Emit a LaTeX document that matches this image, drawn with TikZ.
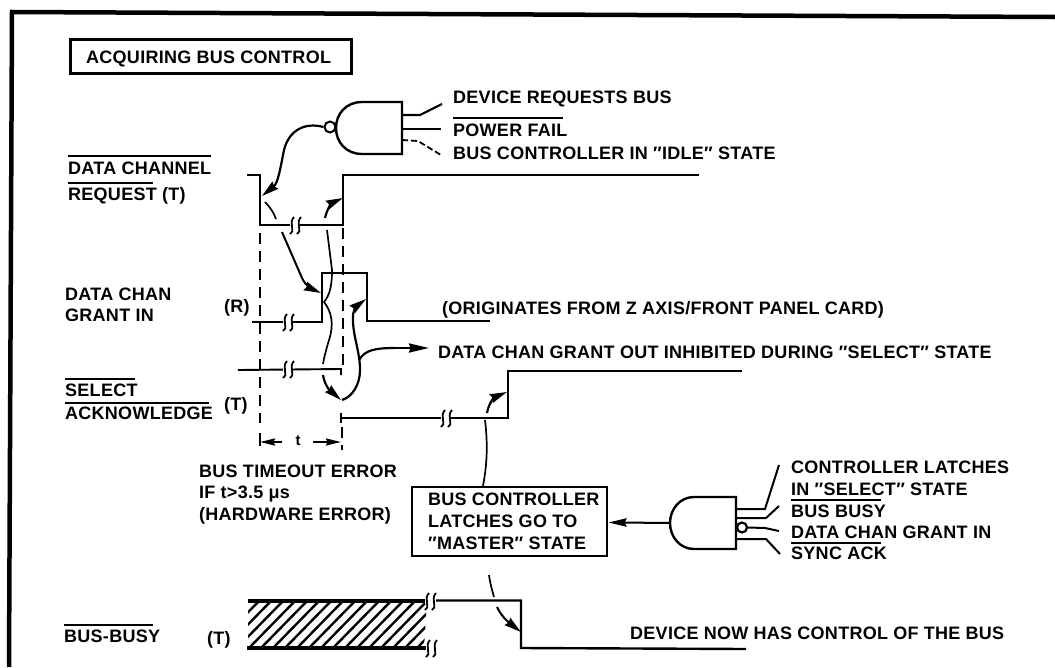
\documentclass[tikz,border=0pt]{standalone}
\usepackage{fontspec}
\setmainfont{Liberation Sans}[LetterSpace=1.5]
\usetikzlibrary{arrows.meta}
\tikzset{
  x=1pt,y=-1pt,
  lbl/.style={anchor=base west,yshift=-6.3pt,inner sep=0pt,font=\bfseries\fontsize{18}{18}\selectfont},
  sig/.style={line width=2.4pt,line join=miter},
  over/.style={line width=1.6pt},
  dashline/.style={line width=2pt,dash pattern=on 11pt off 7pt},
  tiph/.style={-{Stealth[length=17pt,width=9pt,inset=1.5pt]}},
  gate/.style={line width=2.4pt,fill=white},
  framebox/.style={draw,inner sep=0pt}
}
\newcommand{\brk}[2]{%
  \fill[white] (#1-5,#2-3) rectangle (#1+5,#2+3);
  \draw[line width=1.8pt] (#1-5,#2+9) .. controls (#1+1,#2+7) and (#1-7,#2-2) .. (#1-1,#2-8);
  \draw[line width=1.8pt] (#1+2,#2+9) .. controls (#1+8,#2+7) and (#1+0,#2-2) .. (#1+6,#2-8);
}
\begin{document}
\begin{tikzpicture}
\useasboundingbox (0,0) rectangle (1055,667);
% frame
\draw[line width=4.5pt] (9,667) -- (12,12) -- (1055,17);
% title
\node[framebox,line width=3pt,minimum width=281pt,minimum height=34pt] (title) at (210.5,56) {};
\node[lbl] (titlet) at (86,57) {ACQUIRING BUS CONTROL};
% coordinates
\coordinate (g1a) at (402,115); \coordinate (g1b) at (402,129); \coordinate (g1c) at (402,140);
\coordinate (i1a) at (442,104); \coordinate (i1b) at (441,129); \coordinate (i1c) at (441,155);
\coordinate (edge1) at (262,196); \coordinate (edge2) at (343,198);
\coordinate (rise) at (321,293); \coordinate (fall) at (366,299);
\coordinate (sel) at (341,400); \coordinate (selr) at (507,392);
\coordinate (outarrow) at (429,348); \coordinate (busedge) at (521,632);
% gate 1
\draw[line width=2.2pt] (g1a) -- (420,115) -- (i1a);
\draw[line width=2.6pt] (g1b) -- (i1b);
\draw[line width=1.8pt,dash pattern=on 6pt off 3pt] (g1c) -- (418,141) -- (i1c);
\draw[gate] (402,102) -- (362,102) .. controls (346,102) and (336,114) .. (336,128)
  .. controls (336,142) and (346,154) .. (362,154) -- (402,154) -- cycle;
\node[circle,draw,line width=2pt,fill=white,minimum size=11pt,inner sep=0pt] (bub1) at (330,127) {};
\draw[line width=2.2pt,tiph] (bub1.west) .. controls (305,122) and (289,130) .. (284,150)
  .. controls (280,170) and (278,183) .. (edge1);
% DATA CHANNEL REQUEST
\draw[sig] (247,175) -- (260,175) -- (260,225) -- (343,225) -- (343,175) -- (699,175);
\brk{295}{225}
% GRANT IN
\draw[sig] (252,322) -- (322,322) -- (322,273) -- (367,273) -- (367,321) -- (490,321);
\brk{288}{322}
% SELECT ACK
\draw[line width=1.9pt] (238,370) -- (341,369) -- (341,375);
\brk{288}{369}
\draw[line width=2pt] (341,413) -- (341,418) -- (341,423);
\draw[sig] (341,418) -- (508,418) -- (508,371) -- (742,371);
\brk{446}{418}
% dashed
\draw[dashline] (260,233) -- (260,423);
\draw[dashline] (342.5,228) -- (342.5,368);
\draw[dashline] (342,427) -- (342,450);
% t dimension
\draw[line width=2pt] (259.5,433) -- (259.5,446);
\node[inner sep=0pt,font=\bfseries\fontsize{15}{15}\selectfont] (tlabel) at (298,441) {t};
\coordinate (tl) at (260,442); \coordinate (tr) at (341,442);
\draw[line width=2pt,-{Stealth[length=15pt,width=7pt,inset=1.5pt]}] (282,442) -- (tl);
\draw[line width=2pt,-{Stealth[length=15pt,width=7pt,inset=1.5pt]}] (313,442) -- (tr);
% curves
\draw[line width=1.7pt] (265,202) .. controls (270,207) and (274,213) .. (276,219);
\draw[line width=2pt,tiph] (282,232) -- (302,278) .. controls (305,285) and (312,289) .. (rise);
\draw[line width=2.2pt,tiph] (325,218) .. controls (328,205) and (334,202) .. (edge2);
\draw[line width=1.7pt] (327,230) -- (332,270) .. controls (332,285) and (330,295) .. (324,302)
  .. controls (332,312) and (334,325) .. (329,340) .. controls (326,350) and (324,358) .. (323,364);
\draw[line width=2.2pt,tiph] (323,375) .. controls (325,388) and (333,393) .. (sel);
\draw[line width=2.2pt,tiph] (342,400) .. controls (352,397) and (360,385) .. (360,370)
  .. controls (360,350) and (352,335) .. (353,315) .. controls (354,308) and (358,305) .. (fall);
\draw[line width=2.2pt] (359,360) .. controls (365,350) and (375,348) .. (395,348);
\draw[line width=2.4pt,-{Stealth[length=20pt,width=9pt,inset=1.5pt]}] (395,348) -- (outarrow);
\draw[line width=2.2pt,tiph] (487,413) .. controls (489,402) and (495,397) .. (selr);
% master box
\node[framebox,line width=2.4pt,minimum width=195pt,minimum height=69pt] (master) at (509.5,521.5) {};
\draw[line width=1.7pt] (485,420) .. controls (488,445) and (487,465) .. (master.north -| 483,0);
\node[lbl] (m1) at (428,499) {BUS CONTROLLER};
\node[lbl] (m2) at (428,521) {LATCHES GO TO};
\node[lbl] (m3) at (428,543) {″MASTER″ STATE};
% gate 2
\coordinate (i2a) at (779,465); \coordinate (i2b) at (779,506); \coordinate (i2c) at (779,531); \coordinate (i2d) at (780,554);
\draw[line width=2pt] (736,509) -- (765,509) -- (i2a);
\draw[line width=2pt] (736,518) -- (766,518) -- (i2b);
\draw[line width=2pt] (736,539) -- (766,539) -- (i2d);
\draw[gate] (736,497) -- (694,497) .. controls (680,497) and (670,509) .. (670,523)
  .. controls (670,537) and (680,549) .. (694,549) -- (736,549) -- cycle;
\node[circle,draw,line width=2.2pt,fill=white,minimum size=10pt,inner sep=0pt] (bub2) at (742,527.5) {};
\draw[line width=2pt] (bub2.east) -- (765,528) -- (i2c);
\coordinate (g2o) at (670,523);
\draw[line width=2pt] (g2o) -- (620,522.5);
\draw[line width=3pt,-{Stealth[length=18pt,width=8pt,inset=1.5pt]}] (624,522.5) -- (master.east |- 0,522.5);
% BUS-BUSY
\begin{scope}
\clip (248,601) -- (427,601) -- (424,648) -- (248,648) -- cycle;
\foreach \k in {0,...,20} {\draw[line width=2.4pt] (248+\k*12-47,648) -- (248+\k*12,600);}
\end{scope}
\draw[line width=3.4pt] (248,601) -- (427,601);
\draw[line width=3.4pt] (247,648) -- (427,648);
\draw[sig] (436,600.5) -- (521,600.5) -- (521,648) -- (746,649);
\brk{430}{601}
\brk{431}{648}
\draw[line width=1.7pt] (489,575) .. controls (490,583) and (492,590) .. (494,597);
\draw[line width=2pt,tiph] (497,607) .. controls (502,618) and (512,625) .. (busedge);
% left labels
\node[lbl] (dc) at (68,168) {DATA CHANNEL};
\node[lbl] (rq) at (68,194) {REQUEST (T)};
\draw[over] (68,156) -- (211,156);
\draw[over] (68,183) -- (153,183);
\node[lbl] (dg1) at (65,294) {DATA CHAN};
\node[lbl] (dg2) at (65,315) {GRANT IN};
\node[lbl] (r) at (224,306) {(R)};
\node[lbl] (sl) at (65,390) {SELECT};
\node[lbl] (ak) at (65,413) {ACKNOWLEDGE};
\draw[over] (65,379) -- (135,379);
\draw[over] (65,403) -- (209,403);
\node[lbl] (t1) at (224,404) {(T)};
\node[lbl] (e1) at (199,471) {BUS TIMEOUT ERROR};
\node[lbl] (e2) at (199,492) {IF t>3.5 μs};
\node[lbl] (e3) at (199,514) {(HARDWARE ERROR)};
\node[lbl] (bb) at (64,636) {BUS-BUSY};
\draw[over] (64,625) -- (153,625);
\node[lbl] (t2) at (207,638) {(T)};
% right labels
\node[lbl] (r1) at (453,97) {DEVICE REQUESTS BUS};
\node[lbl] (r2) at (453,130) {POWER FAIL};
\draw[over] (453,118) -- (563,118);
\node[lbl] (r3) at (453,153) {BUS CONTROLLER IN ″IDLE″ STATE};
\node[lbl] (r4) at (442,308) {(ORIGINATES FROM Z AXIS/FRONT PANEL CARD)};
\node[lbl] (r5) at (438,352) {DATA CHAN GRANT OUT INHIBITED DURING ″SELECT″ STATE};
\node[lbl] (c1) at (791,467) {CONTROLLER LATCHES};
\node[lbl] (c2) at (791,489) {IN ″SELECT″ STATE};
\node[lbl] (c3) at (791,511) {BUS BUSY};
\draw[over] (791,500) -- (881,500);
\node[lbl] (c4) at (791,532) {DATA CHAN GRANT IN};
\node[lbl] (c5) at (791,553) {SYNC ACK};
\draw[over] (791,543) -- (881,543);
\node[lbl] (c6) at (630,633) {DEVICE NOW HAS CONTROL OF THE BUS};
\end{tikzpicture}
\end{document}
